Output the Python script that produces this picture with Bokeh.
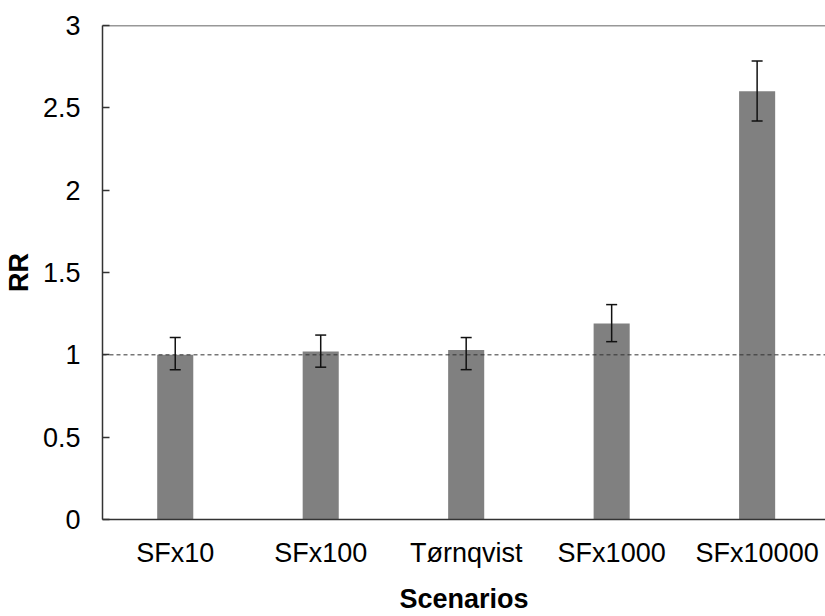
from bokeh.plotting import figure
from bokeh.models import ColumnDataSource, Whisker, Span, Range1d, FixedTicker, TeeHead
from bokeh.embed import file_html
from bokeh.resources import INLINE

categories = ["SFx10", "SFx100", "Tørnqvist", "SFx1000", "SFx10000"]
rr = [1.00, 1.02, 1.03, 1.19, 2.60]
rr_lower = [0.91, 0.925, 0.91, 1.08, 2.42]
rr_upper = [1.105, 1.12, 1.105, 1.305, 2.785]
y_ticks = [0, 0.5, 1, 1.5, 2, 2.5, 3]
y_tick_labels = ["0", "0.5", "1", "1.5", "2", "2.5", "3"]
reference_level = 1.0
x_title = "Scenarios"
y_title = "RR"

xpos = list(range(len(categories)))
src = ColumnDataSource(dict(x=xpos, top=rr, lower=rr_lower, upper=rr_upper))

p = figure(width=825, height=616, output_backend="svg", toolbar_location=None,
           x_range=Range1d(-0.5, 4.47), y_range=Range1d(0, 3),
           min_border_left=102, min_border_right=0, min_border_top=25, min_border_bottom=97)
p.outline_line_color = None
p.grid.visible = False
p.background_fill_color = "white"
p.border_fill_color = "white"

p.vbar(x="x", top="top", width=0.248, bottom=0, source=src, fill_color="#808080", line_color=None)

p.add_layout(Span(location=reference_level, dimension="width", line_color="#333333",
                  line_width=1, line_dash="4 3"))

w = Whisker(base="x", lower="lower", upper="upper", source=src, line_color="#111111", line_width=1.5,
            upper_head=TeeHead(size=11, line_color="#111111", line_width=1.5),
            lower_head=TeeHead(size=11, line_color="#111111", line_width=1.5))
w.level = "overlay"
p.add_layout(w)

p.add_layout(Span(location=3, dimension="width", line_color="#333333", line_width=1.5))

font = "Liberation Sans"
p.xaxis.ticker = FixedTicker(ticks=xpos)
p.xaxis.major_label_overrides = {i: c for i, c in zip(xpos, categories)}
p.xaxis.major_tick_line_color = None
p.xaxis.minor_tick_line_color = None
p.xaxis.axis_line_color = "#333333"
p.xaxis.axis_line_width = 1.5
p.xaxis.major_label_text_font = font
p.xaxis.major_label_text_font_size = "27px"
p.xaxis.major_label_text_color = "black"
p.xaxis.major_label_standoff = 12
p.xaxis.axis_label = x_title
p.xaxis.axis_label_text_font = font
p.xaxis.axis_label_text_font_style = "bold"
p.xaxis.axis_label_text_font_size = "27px"
p.xaxis.axis_label_text_color = "black"
p.xaxis.axis_label_standoff = 13

p.yaxis.ticker = FixedTicker(ticks=y_ticks)
p.yaxis.major_label_overrides = {t: l for t, l in zip(y_ticks, y_tick_labels)}
p.yaxis.minor_tick_line_color = None
p.yaxis.major_tick_in = 7
p.yaxis.major_tick_out = 0
p.yaxis.major_tick_line_color = "#333333"
p.yaxis.major_tick_line_width = 1.5
p.yaxis.axis_line_color = "#333333"
p.yaxis.axis_line_width = 1.5
p.yaxis.major_label_text_font = font
p.yaxis.major_label_text_font_size = "27px"
p.yaxis.major_label_text_color = "black"
p.yaxis.major_label_standoff = 22
p.yaxis.axis_label = y_title
p.yaxis.axis_label_text_font = font
p.yaxis.axis_label_text_font_style = "bold"
p.yaxis.axis_label_text_font_size = "27px"
p.yaxis.axis_label_text_color = "black"
p.yaxis.axis_label_standoff = 6

open("out.html", "w").write(file_html(p, INLINE))
